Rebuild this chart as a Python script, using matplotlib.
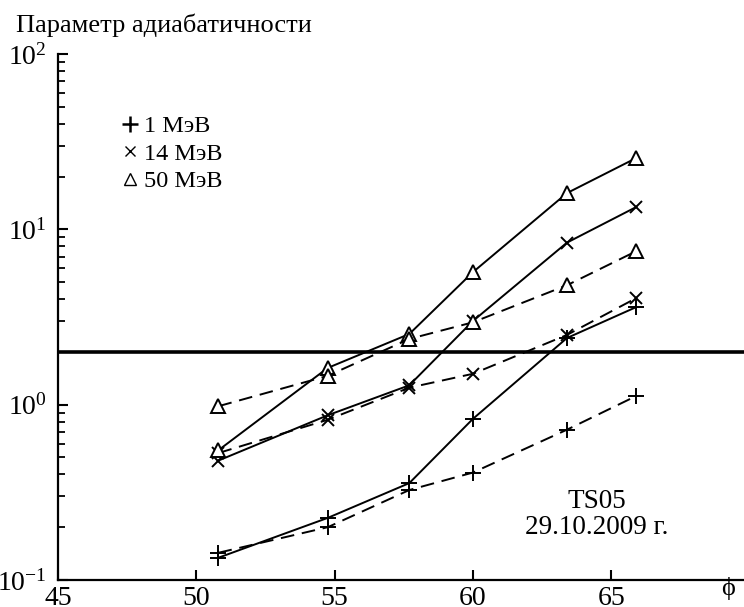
import numpy as np
import matplotlib
matplotlib.use("Agg")
import matplotlib.pyplot as plt
from matplotlib.lines import Line2D
from matplotlib.ticker import LogLocator, NullFormatter

plt.rcParams['font.family'] = ['Liberation Serif', 'DejaVu Serif']
plt.rcParams['mathtext.fontset'] = 'stix'

# широта (phi) и параметр адиабатичности
phi = [50.8, 54.75, 57.7, 60.0, 63.4, 65.9]

e1_solid = [0.134, 0.226, 0.357, 0.83, 2.4, 3.6]
e1_dash = [0.143, 0.20, 0.326, 0.41, 0.72, 1.12]
e14_solid = [0.48, 0.87, 1.29, 3.0, 8.4, 13.4]
e14_dash = [0.53, 0.82, 1.25, 1.5, 2.5, 4.05]
e50_solid = [0.55, 1.62, 2.53, 5.7, 16.1, 25.5]
e50_dash = [0.98, 1.46, 2.37, 2.95, 4.8, 7.5]

threshold = 2.0
xticks = [45, 50, 55, 60, 65]

fig = plt.figure(figsize=(7.44, 6.07), dpi=100)
ax = fig.add_axes([0.078, 0.0445, 0.922, 0.8665])

dash = (0, (7, 4))
series = [
    (e1_solid, '-', '+', 11),
    (e1_dash, dash, '+', 11),
    (e14_solid, '-', 'x', 8),
    (e14_dash, dash, 'x', 8),
    (e50_solid, '-', '^', 10),
    (e50_dash, dash, '^', 10),
]
for y, ls, m, ms in series:
    ax.plot(phi, y, color='black', linestyle=ls, linewidth=1.4,
            marker=m, markersize=ms, markerfacecolor='white',
            markeredgecolor='black', markeredgewidth=1.4)

ax.axhline(threshold, color='black', linewidth=2.6)

ax.set_yscale('log')
ax.set_ylim(0.1, 100)
ax.set_xlim(45, 69.8)
ax.set_xticks(xticks)
ax.yaxis.set_major_locator(LogLocator(base=10, numticks=10))
ax.yaxis.set_minor_locator(LogLocator(base=10, subs=np.arange(2, 10), numticks=10))
ax.yaxis.set_minor_formatter(NullFormatter())

for s in ['top', 'right']:
    ax.spines[s].set_visible(False)
for s in ['left', 'bottom']:
    ax.spines[s].set_linewidth(1.6)

ax.tick_params(axis='both', which='major', direction='in', length=7, width=1.5,
               labelsize=20)
ax.tick_params(axis='y', which='major', pad=8)
ax.tick_params(axis='x', which='major', pad=4)
ax.tick_params(axis='y', which='minor', direction='in', length=5, width=1.3)
ax.tick_params(axis='x', which='minor', bottom=False)

fig.text(0.022, 0.958, 'Параметр адиабатичности', fontsize=19, va='center', ha='left')
fig.text(0.978, 0.012, 'ϕ', fontsize=19, va='bottom', ha='center')

ax.text(0.785, 0.125, 'TS05\n29.10.2009 г.', transform=ax.transAxes, fontsize=19.5,
        ha='center', va='center', linespacing=1.05)

handles = [
    Line2D([], [], linestyle='none', marker='+', markersize=12, color='black', markeredgewidth=1.8),
    Line2D([], [], linestyle='none', marker='x', markersize=7, color='black', markeredgewidth=1.0),
    Line2D([], [], linestyle='none', marker='^', markersize=9, markerfacecolor='white',
           markeredgecolor='black', markeredgewidth=1.0),
]
fig.legend(handles, ['1 МэВ', '14 МэВ', '50 МэВ'], loc='upper left',
           bbox_to_anchor=(0.145, 0.83), frameon=False, fontsize=17.5,
           handlelength=0.8, handletextpad=0.2, labelspacing=0.22, borderpad=0)

fig.savefig('out.png', dpi=100)
